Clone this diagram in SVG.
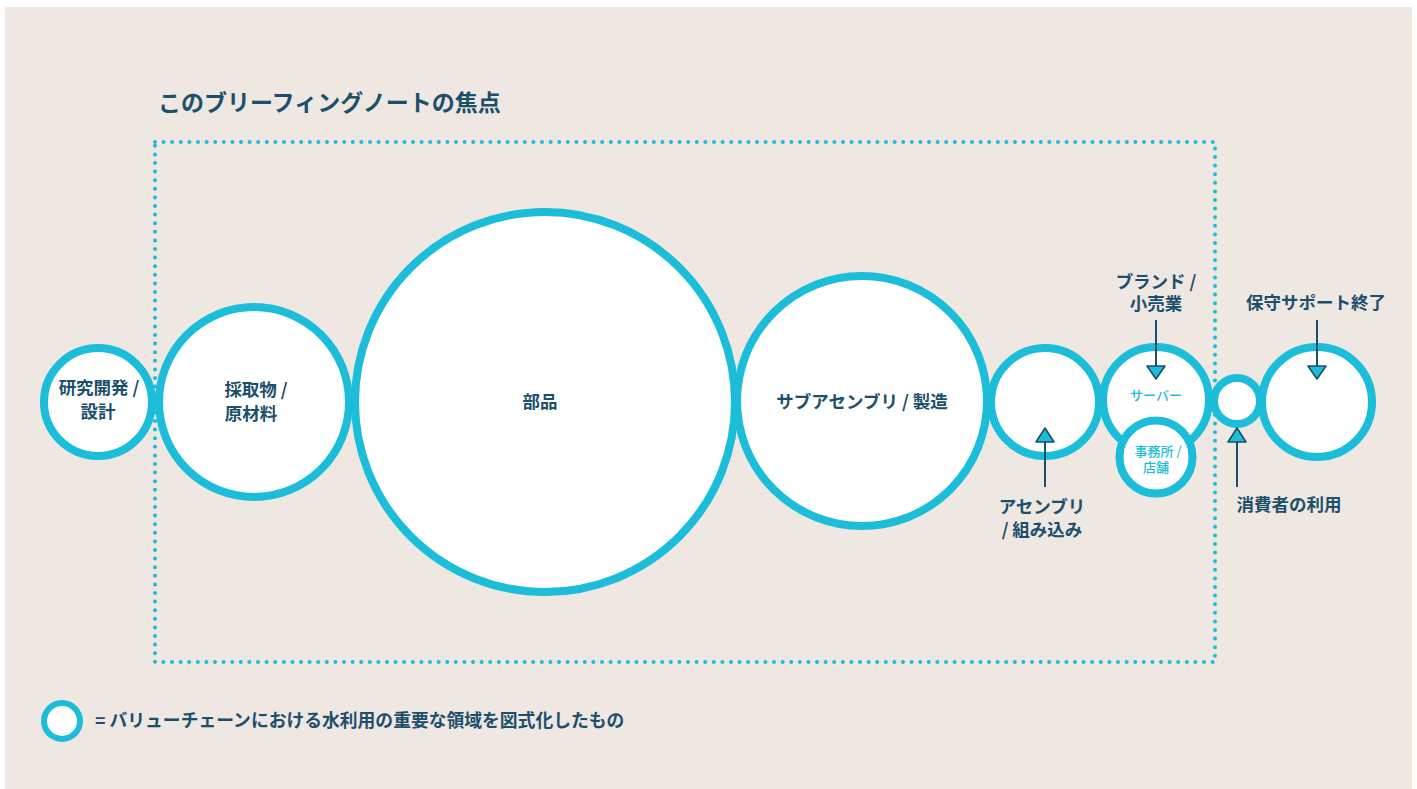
<svg xmlns="http://www.w3.org/2000/svg" width="1417" height="789" viewBox="0 0 1417 789">
<defs>
<style>
.bg{fill:#eee7e2}
.ring{fill:#ffffff;stroke:#1bbdd8;stroke-width:8}
.lbl{font-family:"Noto Sans CJK JP","Noto Sans",sans-serif;font-weight:600;font-size:17.5px;fill:#1d4f6b;text-anchor:middle}
.sm{font-family:"Noto Sans CJK JP","Noto Sans",sans-serif;font-weight:500;font-size:13px;fill:#1bbdd8;text-anchor:middle}
.title{font-family:"Noto Sans CJK JP","Noto Sans",sans-serif;font-weight:600;font-size:23px;fill:#1d4f6b}
.ln{stroke:#1d4f6b;stroke-width:2;fill:none}
.tri{fill:#1bbdd8;stroke:#1d4f6b;stroke-width:1.6;stroke-linejoin:round}
.dot{fill:none;stroke:#1bbdd8;stroke-width:4;stroke-linecap:round;stroke-dasharray:0 8.6}
</style>
</defs>
<rect class="bg" x="5" y="7" width="1407" height="782"/>
<text class="title" x="158" y="111">このブリーフィングノートの焦点</text>
<rect class="dot" x="155" y="142" width="1060" height="520"/>

<g id="n-rd"><circle class="ring" cx="98" cy="402" r="54"/><text class="lbl" x="99" y="394">研究開発 /</text><text class="lbl" x="98" y="418">設計</text></g>
<g id="n-raw"><circle class="ring" cx="254" cy="402" r="95"/><text class="lbl" x="256" y="396">採取物 /</text><text class="lbl" x="251" y="420">原材料</text></g>
<g id="n-parts"><circle class="ring" cx="545" cy="402" r="190"/><text class="lbl" x="540" y="408">部品</text></g>
<g id="n-sub"><circle class="ring" cx="862" cy="401" r="125"/><text class="lbl" x="862" y="408">サブアセンブリ / 製造</text></g>
<g id="n-asm"><circle class="ring" cx="1045" cy="402" r="54"/></g>
<g id="n-brand"><circle class="ring" cx="1156" cy="400" r="53"/><text class="sm" x="1156" y="400">サーバー</text></g>
<g id="n-office"><circle class="ring" cx="1156" cy="457" r="36.5"/><text class="sm" x="1158" y="455.5">事務所 /</text><text class="sm" x="1156" y="472">店舗</text></g>
<g id="n-use"><circle class="ring" cx="1237" cy="401" r="23"/></g>
<g id="n-eol"><circle class="ring" cx="1317" cy="402" r="55"/></g>

<g id="connectors">
<line class="ln" x1="1156" y1="320" x2="1156" y2="368"/><polygon class="tri" points="1147,366 1165,366 1156,379"/>
<line class="ln" x1="1317" y1="320" x2="1317" y2="368"/><polygon class="tri" points="1308,366 1326,366 1317,379"/>
<line class="ln" x1="1045" y1="440" x2="1045" y2="487"/><polygon class="tri" points="1045,428 1036,442 1054,442"/>
<line class="ln" x1="1237" y1="440" x2="1237" y2="487"/><polygon class="tri" points="1237,428 1228,442 1246,442"/>
</g>

<g id="labels">
<text class="lbl" x="1156" y="287.5">ブランド /</text>
<text class="lbl" x="1156" y="310">小売業</text>
<text class="lbl" x="1316" y="309">保守サポート終了</text>
<text class="lbl" x="1042" y="513">アセンブリ</text>
<text class="lbl" x="1042" y="536">/ 組み込み</text>
<text class="lbl" x="1289" y="511">消費者の利用</text>
</g>

<g id="legend">
<circle cx="62" cy="721" r="18" fill="#ffffff" stroke="#1bbdd8" stroke-width="6"/>
<text class="lbl" x="95" y="727" style="text-anchor:start;font-size:17.8px">= バリューチェーンにおける水利用の重要な領域を図式化したもの</text>
</g>
</svg>
